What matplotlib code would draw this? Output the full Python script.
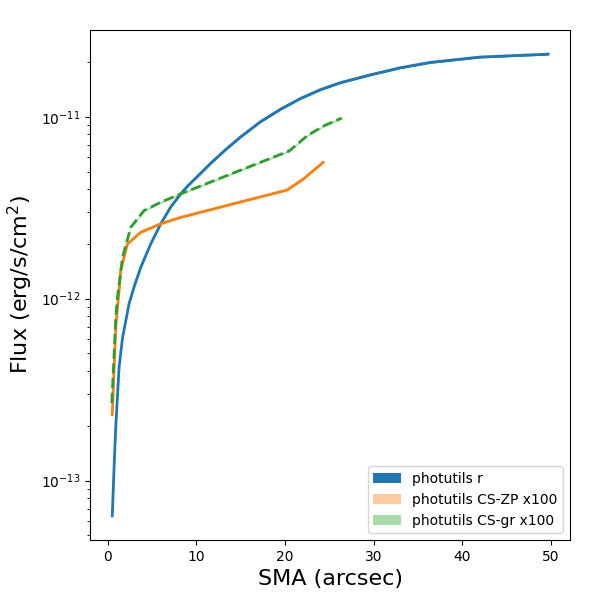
import numpy as np
import matplotlib
matplotlib.use('Agg')
import matplotlib.pyplot as plt

# Perfil r (photutils)
sma_r = [0.5, 0.71, 0.9, 1.27, 1.66, 2.4, 2.96, 3.72, 4.84, 5.97, 7.09,
         8.22, 8.98, 9.91, 11.6, 13.29, 14.98, 17.23, 19.48, 21.73, 23.99,
         26.24, 29.6, 33.0, 36.37, 42.0, 49.7]
flux_r = [6.4e-14, 1.2e-13, 2.0e-13, 4.2e-13, 6.1e-13, 9.4e-13, 1.16e-12,
          1.49e-12, 2.0e-12, 2.58e-12, 3.19e-12, 3.77e-12, 4.15e-12,
          4.6e-12, 5.55e-12, 6.6e-12, 7.75e-12, 9.4e-12, 1.1e-11, 1.26e-11,
          1.41e-11, 1.54e-11, 1.70e-11, 1.86e-11, 1.99e-11, 2.13e-11,
          2.21e-11]

# CS-ZP x100
sma_zp = [0.5, 0.71, 0.9, 1.27, 1.46, 2.21, 3.72, 5.97, 8.22, 20.24, 22.1,
          24.3]
flux_zp = [2.3e-13, 4.2e-13, 7.0e-13, 1.11e-12, 1.43e-12, 2.0e-12, 2.32e-12,
           2.58e-12, 2.8e-12, 3.96e-12, 4.56e-12, 5.62e-12]

# CS-gr x100
sma_gr = [0.45, 0.9, 1.09, 1.66, 2.59, 4.09, 5.97, 8.22, 20.5, 22.5, 24.4,
          26.4]
flux_gr = [2.67e-13, 7.9e-13, 1.02e-12, 1.69e-12, 2.47e-12, 3.05e-12,
           3.39e-12, 3.77e-12, 6.5e-12, 7.87e-12, 8.93e-12, 9.84e-12]

err_frac = 0.012

fig = plt.figure(figsize=(6, 6), dpi=100)
ax = fig.add_axes([0.15, 0.1, 0.8, 0.85])

for sma, flux, col, alpha, ls, lab in [
        (sma_r, flux_r, 'C0', 1.0, '-', 'photutils r'),
        (sma_zp, flux_zp, 'C1', 0.4, '-', 'photutils CS-ZP x100'),
        (sma_gr, flux_gr, 'C2', 0.4, '--', 'photutils CS-gr x100')]:
    f = np.array(flux)
    ax.fill_between(sma, f * (1 - err_frac), f * (1 + err_frac),
                    color=col, alpha=alpha, label=lab, linewidth=0)
    ax.plot(sma, f, color=col, ls=ls, lw=2)

ax.set_yscale('log')
ax.set_xlabel('SMA (arcsec)', fontsize=16)
ax.set_ylabel('Flux (erg/s/cm$^2$)', fontsize=16)
ax.legend(loc='lower right')

fig.savefig('out.png', dpi=100)
